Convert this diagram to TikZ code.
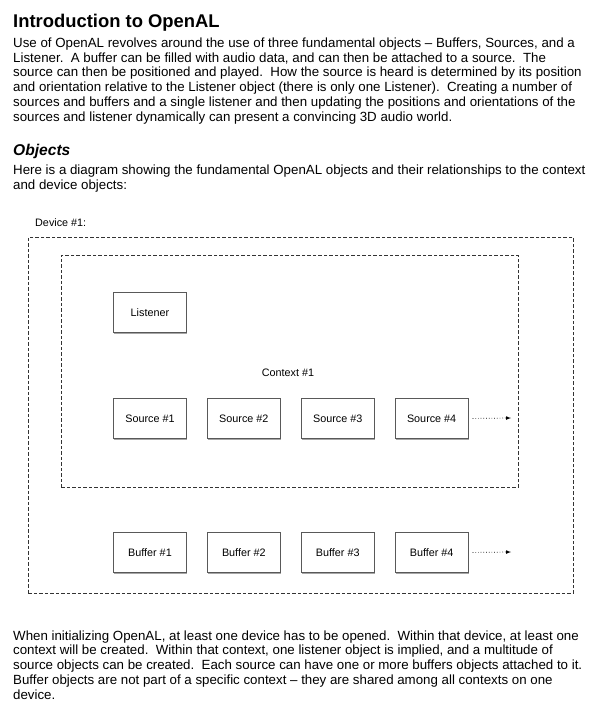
\documentclass[tikz,border=0pt]{standalone}
\usepackage{fontspec}
\setmainfont{Liberation Sans}
\usetikzlibrary{arrows.meta,shadows,positioning}

\begin{document}
\begin{tikzpicture}[x=1pt,y=-1pt,
    objbox/.style={draw=black!65, line width=0.9pt, fill=white, minimum width=73pt, minimum height=40pt, inner sep=0,
                   font=\fontsize{10.8}{12}\selectfont,
                   drop shadow={shadow xshift=0.6pt, shadow yshift=-1.4pt, opacity=0.35, fill=black}},
    dashbox/.style={draw=black!80, line width=0.7pt, dash pattern=on 3.5pt off 2pt, inner sep=0, anchor=north west},
    bodytext/.style={anchor=north west, inner sep=0, align=left, font=\fontsize{13.3}{14.7}\selectfont},
    smalltext/.style={inner sep=0, font=\fontsize{10.8}{12}\selectfont}]
\useasboundingbox (0,0) rectangle (605,715);

% heading and first paragraph
\node[anchor=base west, inner sep=0, font=\fontsize{18.4}{20}\selectfont\bfseries](title) at (13,27) {Introduction to OpenAL};
\node[bodytext](intro) at (13,37.7) {Use of OpenAL revolves around the use of three fundamental objects – Buffers, Sources, and a\\
Listener.\ \ A buffer can be filled with audio data, and can then be attached to a source.\ \ The\\
source can then be positioned and played.\ \ How the source is heard is determined by its position\\
and orientation relative to the Listener object (there is only one Listener).\ \ Creating a number of\\
sources and buffers and a single listener and then updating the positions and orientations of the\\
sources and listener dynamically can present a convincing 3D audio world.};
\node[anchor=base west, inner sep=0, font=\fontsize{15.6}{17}\selectfont\bfseries\itshape](objects) at (13,155) {Objects};
\node[bodytext](here) at (13,164.7) {Here is a diagram showing the fundamental OpenAL objects and their relationships to the context\\
and device objects:};

% device and context
\node[smalltext, anchor=base west](devlabel) at (35,226.7) {Device \#1:};
\node[dashbox, minimum width=545pt, minimum height=356pt](device) at (28,237) {};
\node[dashbox, minimum width=457pt, minimum height=232pt](context) at (61,255) {};
\node[smalltext, anchor=base](ctxlabel) at (288,376) {Context \#1};

% objects
\node[objbox, anchor=north west](listener) at (113,292) {Listener};
\node[objbox, anchor=north west](src1) at (113,398) {Source \#1};
\node[objbox, right=20pt of src1](src2) {Source \#2};
\node[objbox, right=20pt of src2](src3) {Source \#3};
\node[objbox, right=20pt of src3](src4) {Source \#4};
\node[objbox, anchor=north west](buf1) at (113,532) {Buffer \#1};
\node[objbox, right=20pt of buf1](buf2) {Buffer \#2};
\node[objbox, right=20pt of buf2](buf3) {Buffer \#3};
\node[objbox, right=20pt of buf3](buf4) {Buffer \#4};

\coordinate (srcmore) at (511,418);
\coordinate (bufmore) at (511,552);
\draw[dotted, line width=0.7pt, -latex, shorten <=4pt] (src4.east) -- (srcmore);
\draw[dotted, line width=0.7pt, -latex, shorten <=4pt] (buf4.east) -- (bufmore);

% closing paragraph
\node[bodytext](outro) at (13,630.4) {When initializing OpenAL, at least one device has to be opened.\ \ Within that device, at least one\\
context will be created.\ \ Within that context, one listener object is implied, and a multitude of\\
source objects can be created.\ \ Each source can have one or more buffers objects attached to it.\\
Buffer objects are not part of a specific context – they are shared among all contexts on one\\
device.};
\end{tikzpicture}
\end{document}
